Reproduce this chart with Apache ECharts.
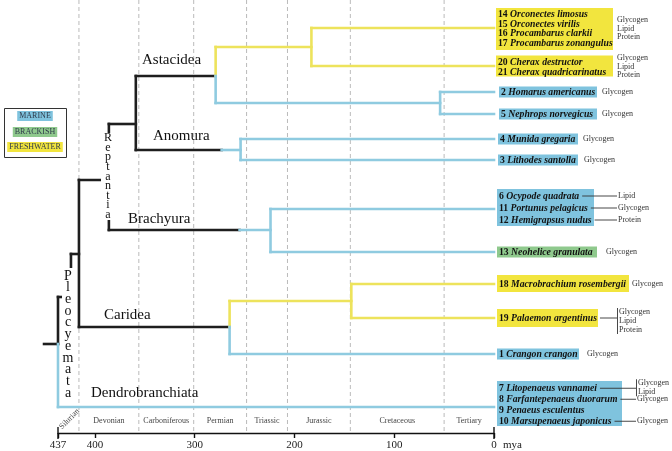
<!DOCTYPE html>
<html><head><meta charset="utf-8">
<script src="https://cdn.jsdelivr.net/npm/echarts@6/dist/echarts.min.js"></script>
<style>html,body{margin:0;padding:0;background:#fff}#c{width:672px;height:451px}</style>
</head><body><div id="c"></div>
<script>
// ================= DATA =================
const tickValues = [437, 400, 300, 200, 100, 0];
const periodNames = ['Silurian','Devonian','Carboniferous','Permian','Triassic','Jurassic','Cretaceous','Tertiary'];
const periodBounds = [437, 416, 356, 301, 248, 207, 144, 50, 0]; // Ma
// horizontal branches: [olderMa, youngerMa, lane, habitat]  (K = deep stem)
const hBranches = [
  [451,437,344,'K'], [437,424,297,'K'], [424,416,254,'K'], [416,386,180,'K'],
  [386,359,124,'K'], [359,279,76,'K'], [359,273,150,'K'], [386,255,230,'K'], [416,265,327,'K'],
  [437,0,407,'M'],
  [279,183,47,'F'], [183,0,28,'F'], [183,0,66,'F'],
  [279,54,103,'M'], [54,0,92,'M'], [54,0,114,'M'],
  [273,254,150,'M'], [254,0,139,'M'], [254,0,160,'M'],
  [255,224,230,'M'], [224,0,209,'M'], [224,0,252,'M'],
  [265,143,301,'F'], [143,0,284,'F'], [143,0,318,'F'],
  [265,0,354,'M']
];
// vertical branches: [Ma, laneTop, laneBottom, habitat]
const vBranches = [
  [437,297,344,'K'], [437,344,407,'M'], [424,254,297,'K'], [416,180,327,'K'],
  [386,124,230,'K'], [359,76,150,'K'],
  [279,47,76,'F'], [279,76,103,'M'], [183,28,66,'F'], [54,92,114,'M'],
  [254,139,160,'M'], [224,209,252,'M'],
  [265,301,327,'F'], [265,327,354,'M'], [143,284,318,'F']
];
const leafLanes = [28, 66, 92, 114, 139, 160, 209, 252, 284, 318, 354, 407];
const leafHabitat = ['F','F','M','M','M','M','M','B','F','F','M','M'];
const leafSpecies = [
  [['14','Orconectes limosus'],['15','Orconectes virilis'],['16','Procambarus clarkii'],['17','Procambarus zonangulus']],
  [['20','Cherax destructor'],['21','Cherax quadricarinatus']],
  [['2','Homarus americanus']],
  [['5','Nephrops norvegicus']],
  [['4','Munida gregaria']],
  [['3','Lithodes santolla']],
  [['6','Ocypode quadrata'],['11','Portunus pelagicus'],['12','Hemigrapsus nudus']],
  [['13','Neohelice granulata']],
  [['18','Macrobrachium rosembergii']],
  [['19','Palaemon argentinus']],
  [['1','Crangon crangon']],
  [['7','Litopenaeus vannamei'],['8','Farfantepenaeus duorarum'],['9','Penaeus esculentus'],['10','Marsupenaeus japonicus']]
];
const leafMolecules = [
  [['Glycogen','Lipid','Protein']],
  [['Glycogen','Lipid','Protein']],
  [['Glycogen']], [['Glycogen']], [['Glycogen']], [['Glycogen']],
  [['Lipid'],['Glycogen'],['Protein']],
  [['Glycogen']],
  [['Glycogen']],
  [['Glycogen','Lipid','Protein']],
  [['Glycogen']],
  [['Glycogen','Lipid'],['Glycogen'],[],['Glycogen']]
];
const habitatNames = {M:'MARINE', B:'BRACKISH', F:'FRESHWATER'};
const cladeNames = ['Astacidea','Anomura','Brachyura','Caridea','Dendrobranchiata'];
const verticalNames = ['Reptantia','Pleocyemata'];

// ================= STYLE / LAYOUT =================
const LINE = {K:'#1e1e1e', M:'#8fcbe0', F:'#ede35c', B:'#8ec98e'};
const BOX = {M:'#7fc3de', F:'#f2e53e', B:'#8fc98d'};
const SERIF = '"Liberation Serif", "Times New Roman", serif';
const SP_SIZE = 9.7;
const leafLayout = [
  {dx:2, w:117, top:-20, h:42, lh:9.4, cy:1, mode:'block', adx:123, acy:0.5, alh:8.5},
  {dx:2, w:117, top:-10.5, h:21, lh:10, cy:1, mode:'block', adx:123, acy:0.5, alh:8.5},
  {dx:5, w:98, top:-5.5, h:11, mode:'block', adx:108},
  {dx:5, w:98, top:-5.5, h:11, mode:'block', adx:108},
  {dx:4, w:80, top:-5.5, h:11, mode:'block', adx:89},
  {dx:4, w:80, top:-5.5, h:11, mode:'block', adx:90},
  {dx:3, w:97, top:-20, h:37, lh:12, cy:-1, mode:'line', cx2:123},
  {dx:3, w:100, top:-5.5, h:11, mode:'block', adx:112},
  {dx:3, w:132, top:-9, h:17, mode:'block', adx:138},
  {dx:3, w:101, top:-9, h:18, mode:'line', cx2:123, a0:-6, alh:9},
  {dx:3, w:82, top:-5.5, h:11, mode:'block', adx:93},
  {dx:3, w:125, top:-26, h:45, lh:11, cy:-2.25, mode:'line', cx2:142, a0:-5, alh:9}
];
const cladePos = [[142,60],[153,136],[128,219],[104,315],[91,393]];
const verticalLayout = [
  {x:108, y0:138, step:9.6, size:12, rect:[101,133,14,87]},
  {x:68, y0:276, step:11.7, size:14, rect:[62,268,13,132]}
];

// ================= CHART =================
const chart = echarts.init(document.getElementById('c'), null, {renderer:'canvas'});
const AXIS_LANE = 433;

chart.setOption({
  animation: false,
  backgroundColor: '#fff',
  grid: {left:58, right:178, top:0, bottom:18, containLabel:false, outerBoundsMode:'none'},
  xAxis: {
    type:'value', inverse:true, min:0, max:437,
    axisLine:{onZero:false, lineStyle:{color:'#111', width:1.4}},
    axisTick:{customValues:tickValues, length:5, lineStyle:{color:'#111', width:1.4}},
    axisLabel:{customValues:tickValues, fontFamily:SERIF, fontSize:11, color:'#222', margin:7},
    splitLine:{show:false}
  },
  yAxis: {type:'value', inverse:true, min:0, max:AXIS_LANE, show:false},
  series: [{
    type:'custom', coordinateSystem:'cartesian2d', clip:false, silent:true,
    data:[[0,0]],
    renderItem: function(params, api) {
      const ch = [];
      periodBounds.slice(1,-1).forEach(b => {
        const p1 = api.coord([b,0]), p2 = api.coord([b,431]);
        ch.push({type:'line', shape:{x1:p1[0],y1:p1[1],x2:p2[0],y2:p2[1]},
          style:{stroke:'#a8a8a8', lineWidth:0.8, lineDash:[4,3]}});
      });
      const seg = (a,b,c) => ch.push({type:'line', shape:{x1:a[0],y1:a[1],x2:b[0],y2:b[1]},
          style:{stroke:LINE[c], lineWidth:2.6, lineCap:'square'}});
      hBranches.forEach(h => seg(api.coord([h[0],h[2]]), api.coord([h[1],h[2]]), h[3]));
      vBranches.forEach(v => seg(api.coord([v[0],v[1]]), api.coord([v[0],v[2]]), v[3]));
      [437,0].forEach(t => {
        const p = api.coord([t, AXIS_LANE]);
        ch.push({type:'line', shape:{x1:p[0],y1:p[1]-6,x2:p[0],y2:p[1]+6}, style:{stroke:'#111', lineWidth:1.4}});
      });
      return {type:'group', children:ch};
    }
  }]
});

// ---------- annotations (positioned through the axes' scales) ----------
const cv = document.createElement('canvas').getContext('2d');
function tw(font, s){ cv.font = font; return cv.measureText(s).width; }
const numFont = 'bold ' + SP_SIZE + 'px ' + SERIF;
const spFont = 'italic bold ' + SP_SIZE + 'px ' + SERIF;
const px = (t, lane) => chart.convertToPixel({gridIndex:0}, [t, lane]);

const G = [];
function text(x, y, s, o) {
  o = o || {};
  G.push({type:'text', z:20, style:Object.assign({
    text:s, x:x, y:y, fill:o.fill || '#222',
    font: o.font || ('8px ' + SERIF),
    textAlign:o.align || 'left', align:o.align || 'left',
    textVerticalAlign:'middle', verticalAlign:'middle'
  }, o.extra || {}), rotation:o.rotation || 0, originX:x, originY:y});
}
function rect(x, y, w, h, fill, stroke) {
  G.push({type:'rect', z:10, shape:{x:x, y:y, width:w, height:h},
    style:{fill:fill || 'none', stroke:stroke || null, lineWidth:stroke ? 1 : 0}});
}
function line(x1, y1, x2, y2, w) {
  G.push({type:'line', z:15, shape:{x1:x1,y1:y1,x2:x2,y2:y2}, style:{stroke:'#333', lineWidth:w || 0.9}});
}

// period labels
periodNames.forEach((n, i) => {
  const a = periodBounds[i], b = periodBounds[i+1];
  const p = px((a+b)/2, 421);
  if (i === 0) text(p[0]+1, p[1]-2, n, {align:'center', fill:'#444', rotation:Math.PI/4});
  else text(p[0], p[1], n, {align:'center', fill:'#444'});
});
// mya
{ const p = px(0, AXIS_LANE); text(p[0]+9, p[1]+12, 'mya', {font:'11px ' + SERIF, fill:'#222'}); }

// leaves
leafLanes.forEach((lane, i) => {
  const L = leafLayout[i];
  const p = px(0, lane);
  const bx = p[0] + L.dx;
  rect(bx, p[1] + L.top, L.w, L.h, BOX[leafHabitat[i]]);
  const sp = leafSpecies[i];
  const lh = L.lh || 10, cy = L.cy || 0;
  const ys = sp.map((s, k) => p[1] + cy + (k - (sp.length-1)/2) * lh);
  sp.forEach((s, k) => {
    G.push({type:'text', z:20, style:{
      text:'{n|' + s[0] + ' }{s|' + s[1] + '}', x:bx+2, y:ys[k],
      font:numFont, fill:'#111', textAlign:'left', align:'left', textVerticalAlign:'middle', verticalAlign:'middle',
      rich:{
        n:{fontFamily:SERIF, fontSize:SP_SIZE, fontWeight:'bold', fill:'#111'},
        s:{fontFamily:SERIF, fontSize:SP_SIZE, fontWeight:'bold', fontStyle:'italic', fill:'#111'}
      }}});
  });
  const mol = leafMolecules[i];
  if (L.mode === 'block') {
    const list = mol[0], alh = L.alh || 8.5, acy = L.acy || 0;
    list.forEach((m, k) => text(p[0] + L.adx, p[1] + acy + (k - (list.length-1)/2) * alh, m, {fill:'#333'}));
  } else {
    sp.forEach((s, k) => {
      const list = mol[k];
      if (!list || !list.length) return;
      const end = bx + 2 + tw(numFont, s[0] + ' ') + tw(spFont, s[1]);
      const xe = p[0] + L.cx2;
      line(end + 3, ys[k], xe, ys[k]);
      if (list.length === 1) {
        text(xe + 1, ys[k], list[0], {fill:'#333'});
      } else {
        const a0 = L.a0, alh = L.alh;
        const first = ys[k] + a0, last = first + (list.length-1) * alh;
        line(xe + 0.5, first - 4, xe + 0.5, last + 4);
        list.forEach((m, j) => text(xe + 2, first + j * alh, m, {fill:'#333'}));
      }
    });
  }
});

// clade labels
cladeNames.forEach((n, i) => text(cladePos[i][0], cladePos[i][1], n, {font:'15px ' + SERIF, fill:'#111'}));
// vertical labels (white background hides the branch behind)
verticalNames.forEach((n, i) => {
  const V = verticalLayout[i];
  rect(V.rect[0], V.rect[1], V.rect[2], V.rect[3], '#fff');
  n.split('').forEach((ch, k) => text(V.x, V.y0 + k * V.step, ch, {align:'center', font:V.size + 'px ' + SERIF, fill:'#111'}));
});
// legend
rect(4.5, 108.5, 62, 49, 'none', '#333');
['M','B','F'].forEach((h, i) => {
  const y = [116, 132, 147][i];
  const w = tw('8px ' + SERIF, habitatNames[h]) + 4;
  rect(35 - w/2, y - 5, w, 10, BOX[h]);
  text(35, y, habitatNames[h], {align:'center', fill:'#2e3a4a'});
});

chart.setOption({graphic:{elements:G}});
</script>
</body></html>
